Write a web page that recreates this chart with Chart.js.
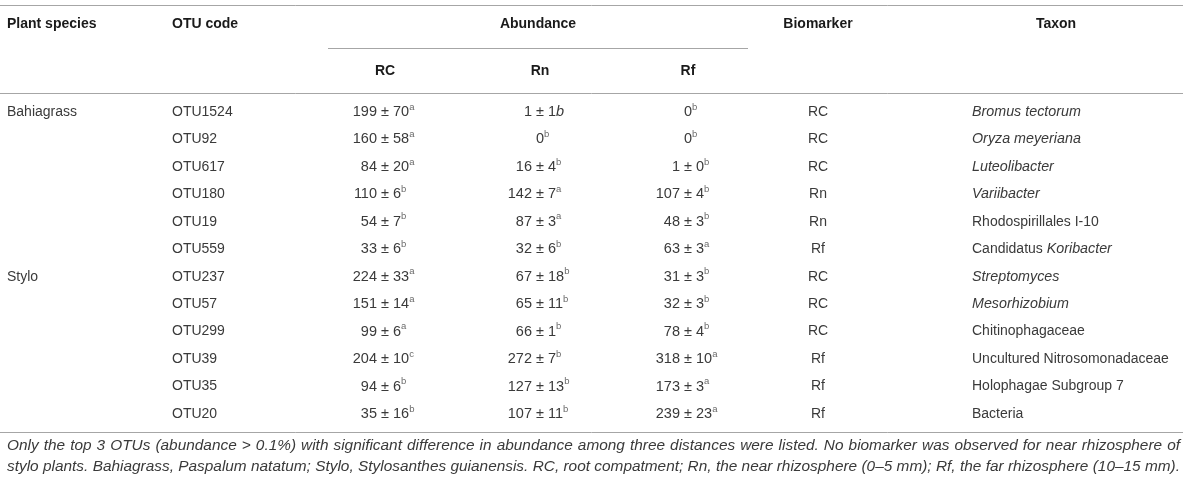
<!DOCTYPE html>
<html>
<head>
<meta charset="utf-8">
<script src="https://cdn.jsdelivr.net/npm/chart.js@4.4.1/dist/chart.umd.min.js"></script>
<style>
html, body { margin: 0; padding: 0; background: #fff; }
#wrap { width: 1200px; height: 477px; position: relative; }
</style>
</head>
<body>
<div id="wrap"><canvas id="chart"></canvas></div>
<script>
// table content
const headers1 = ['Plant species', 'OTU code', 'Abundance', 'Biomarker', 'Taxon'];
const headers2 = ['RC', 'Rn', 'Rf'];

const species = ['Bahiagrass', 'Stylo'];
const speciesFirstRow = [0, 6];

const otus = ['OTU1524', 'OTU92', 'OTU617', 'OTU180', 'OTU19', 'OTU559',
              'OTU237', 'OTU57', 'OTU299', 'OTU39', 'OTU35', 'OTU20'];

const rcMean = [199, 160, 84, 110, 54, 33, 224, 151, 99, 204, 94, 35];
const rcSd   = [70, 58, 20, 6, 7, 6, 33, 14, 6, 10, 6, 16];
const rcSig  = ['a', 'a', 'a', 'b', 'b', 'b', 'a', 'a', 'a', 'c', 'b', 'b'];

const rnMean = [1, 0, 16, 142, 87, 32, 67, 65, 66, 272, 127, 107];
const rnSd   = [1, null, 4, 7, 3, 6, 18, 11, 1, 7, 13, 11];
const rnSig  = ['~b', 'b', 'b', 'a', 'a', 'b', 'b', 'b', 'b', 'b', 'b', 'b']; // '~' = set inline, italic

const rfMean = [0, 0, 1, 107, 48, 63, 31, 32, 78, 318, 173, 239];
const rfSd   = [null, null, 0, 4, 3, 3, 3, 3, 4, 10, 3, 23];
const rfSig  = ['b', 'b', 'b', 'b', 'b', 'a', 'b', 'b', 'b', 'a', 'a', 'a'];

const biomarker = ['RC', 'RC', 'RC', 'Rn', 'Rn', 'Rf', 'RC', 'RC', 'RC', 'Rf', 'Rf', 'Rf'];
const taxon = ['*Bromus tectorum*', '*Oryza meyeriana*', '*Luteolibacter*', '*Variibacter*',
               'Rhodospirillales I-10', 'Candidatus *Koribacter*', '*Streptomyces*',
               '*Mesorhizobium*', 'Chitinophagaceae', 'Uncultured Nitrosomonadaceae',
               'Holophagae Subgroup 7', 'Bacteria'];

const footnote = [
  'Only the top 3 OTUs (abundance > 0.1%) with significant difference in abundance among three distances were listed. No biomarker was observed for near rhizosphere of',
  'stylo plants. Bahiagrass, Paspalum natatum; Stylo, Stylosanthes guianensis. RC, root compatment; Rn, the near rhizosphere (0\u20135 mm); Rf, the far rhizosphere (10\u201315 mm).'
];

// layout (in canvas units, mapped through the chart scales)
const LAY = {
  ruleTop: 5.5, ruleSub: 48.5, ruleHead: 93.5, ruleBottom: 432.5,
  tableL: 0, tableR: 1183, subL: 328, subR: 748,
  yHead1: 24, yHead2: 71, yRow0: 112, rowStep: 27.45,
  yFoot: [446, 467], footL: 7, footR: 1180,
  colX: { species: 7, otu: 172, rc: 385, rn: 540, rf: 688, bio: 818, taxon: 972, abund: 538 }
};

const FAMILY = "'Liberation Sans', Arial, sans-serif";
const F_BODY = '14px ' + FAMILY;
const F_NUM = '14.5px ' + FAMILY;
const F_BOLD = 'bold 14px ' + FAMILY;
const F_ITAL = 'italic 14.3px ' + FAMILY;
const F_SUP = '9.5px ' + FAMILY;
const F_FOOT = 'italic 15.4px ' + FAMILY;
const C_BODY = '#3a3a3a';
const C_HEAD = '#1a1a1a';
const C_SUP = '#6a6a6a';
const C_RULE = '#a6a6a6';

function rowY(i) { return LAY.yRow0 + i * LAY.rowStep; }

function plainSegs(t, font, color) { return [{ t: t, f: font || F_BODY, c: color || C_BODY }]; }

function taxonSegs(s) {
  return s.split('*').map((p, k) => ({ t: p, f: k % 2 ? F_ITAL : F_BODY, c: C_BODY }))
                     .filter(seg => seg.t.length);
}

function valueSegs(m, sd, sig) {
  const segs = [{ t: sd === null ? String(m) : m + ' \u00b1 ' + sd, f: F_NUM, c: C_BODY }];
  if (sig.charAt(0) === '~') segs.push({ t: sig.slice(1), f: 'italic 14.5px ' + FAMILY, c: C_BODY });
  else segs.push({ t: sig, f: F_SUP, c: C_SUP, dy: -5 });
  return segs;
}

function cellSet(x, cells, align) {
  return {
    type: 'scatter',
    data: cells.map(c => ({ x: x, y: c.y })),
    cells: cells.map(c => c.segs),
    align: align,
    pointRadius: 0,
    pointHoverRadius: 0
  };
}

function ruleSet(x1, x2, y) {
  return {
    type: 'line',
    data: [{ x: x1, y: y }, { x: x2, y: y }],
    borderColor: C_RULE,
    borderWidth: 1,
    pointRadius: 0,
    fill: false
  };
}

const datasets = [
  ruleSet(LAY.tableL, LAY.tableR, LAY.ruleTop),
  ruleSet(LAY.subL, LAY.subR, LAY.ruleSub),
  ruleSet(LAY.tableL, LAY.tableR, LAY.ruleHead),
  ruleSet(LAY.tableL, LAY.tableR, LAY.ruleBottom),

  // header row 1
  cellSet(LAY.colX.species, [{ y: LAY.yHead1, segs: plainSegs(headers1[0], F_BOLD, C_HEAD) }], 'left'),
  cellSet(LAY.colX.otu, [{ y: LAY.yHead1, segs: plainSegs(headers1[1], F_BOLD, C_HEAD) }], 'left'),
  cellSet(LAY.colX.abund, [{ y: LAY.yHead1, segs: plainSegs(headers1[2], F_BOLD, C_HEAD) }], 'center'),
  cellSet(LAY.colX.bio, [{ y: LAY.yHead1, segs: plainSegs(headers1[3], F_BOLD, C_HEAD) }], 'center'),
  cellSet(LAY.colX.taxon + 84, [{ y: LAY.yHead1, segs: plainSegs(headers1[4], F_BOLD, C_HEAD) }], 'center'),
  // header row 2
  cellSet(LAY.colX.rc, [{ y: LAY.yHead2, segs: plainSegs(headers2[0], F_BOLD, C_HEAD) }], 'center'),
  cellSet(LAY.colX.rn, [{ y: LAY.yHead2, segs: plainSegs(headers2[1], F_BOLD, C_HEAD) }], 'center'),
  cellSet(LAY.colX.rf, [{ y: LAY.yHead2, segs: plainSegs(headers2[2], F_BOLD, C_HEAD) }], 'center'),

  // body
  cellSet(LAY.colX.species, species.map((s, k) => ({ y: rowY(speciesFirstRow[k]), segs: plainSegs(s) })), 'left'),
  cellSet(LAY.colX.otu, otus.map((o, i) => ({ y: rowY(i), segs: plainSegs(o) })), 'left'),
  cellSet(LAY.colX.rc, rcMean.map((m, i) => ({ y: rowY(i), segs: valueSegs(m, rcSd[i], rcSig[i]) })), 'pm'),
  cellSet(LAY.colX.rn, rnMean.map((m, i) => ({ y: rowY(i), segs: valueSegs(m, rnSd[i], rnSig[i]) })), 'pm'),
  cellSet(LAY.colX.rf, rfMean.map((m, i) => ({ y: rowY(i), segs: valueSegs(m, rfSd[i], rfSig[i]) })), 'pm'),
  cellSet(LAY.colX.bio, biomarker.map((b, i) => ({ y: rowY(i), segs: plainSegs(b) })), 'center'),
  cellSet(LAY.colX.taxon, taxon.map((t, i) => ({ y: rowY(i), segs: taxonSegs(t) })), 'left'),

  // footnote, justified to the table width
  Object.assign(cellSet(LAY.footL, footnote.map((t, k) => ({ y: LAY.yFoot[k], segs: plainSegs(t, F_FOOT, C_BODY) })), 'justify'), { right: LAY.footR })
];

function drawSegs(ctx, segs, x, y, align, right) {
  ctx.textBaseline = 'middle';
  ctx.textAlign = 'left';
  if (align === 'justify') {
    ctx.font = segs[0].f;
    ctx.fillStyle = segs[0].c;
    const words = segs[0].t.split(' ');
    const ws = words.map(w => ctx.measureText(w).width);
    const sum = ws.reduce((a, b) => a + b, 0);
    const natural = ctx.measureText(' ').width;
    const gap = (right - x - sum) / (words.length - 1);
    if (gap < natural) {
      ctx.fillText(segs[0].t, x, y, right - x);
      return;
    }
    let cx = x;
    words.forEach((w, k) => { ctx.fillText(w, cx, y); cx += ws[k] + gap; });
    return;
  }
  const widths = segs.map(s => { ctx.font = s.f; return ctx.measureText(s.t).width; });
  const total = widths.reduce((a, b) => a + b, 0);
  let start = x;
  if (align === 'center') start = x - total / 2;
  else if (align === 'pm') {
    const main = segs[0].t;
    ctx.font = segs[0].f;
    const p = main.indexOf('\u00b1');
    if (p >= 0) {
      start = x - ctx.measureText(main.slice(0, p)).width - ctx.measureText('\u00b1').width / 2;
    } else {
      start = x - widths[0] / 2;
    }
  }
  let cx = start;
  segs.forEach((s, k) => {
    ctx.font = s.f;
    ctx.fillStyle = s.c;
    ctx.fillText(s.t, cx, y + (s.dy || 0));
    cx += widths[k];
  });
}

const cellText = {
  id: 'cellText',
  afterDatasetsDraw(chart) {
    const ctx = chart.ctx;
    const xs = chart.scales.x;
    ctx.save();
    chart.data.datasets.forEach((ds, d) => {
      if (!ds.cells) return;
      const meta = chart.getDatasetMeta(d);
      const right = ds.right !== undefined ? xs.getPixelForValue(ds.right) : 0;
      meta.data.forEach((pt, i) => drawSegs(ctx, ds.cells[i], pt.x, pt.y, ds.align, right));
    });
    ctx.restore();
  }
};

const chart = new Chart(document.getElementById('chart'), {
  data: { datasets: datasets },
  options: {
    responsive: true,
    maintainAspectRatio: false,
    animation: false,
    events: [],
    layout: { padding: 0 },
    plugins: { legend: { display: false }, tooltip: { enabled: false } },
    scales: {
      x: { type: 'linear', min: 0, max: 1200, display: false },
      y: { type: 'linear', min: 0, max: 477, reverse: true, display: false }
    }
  },
  plugins: [cellText]
});
</script>
</body>
</html>
